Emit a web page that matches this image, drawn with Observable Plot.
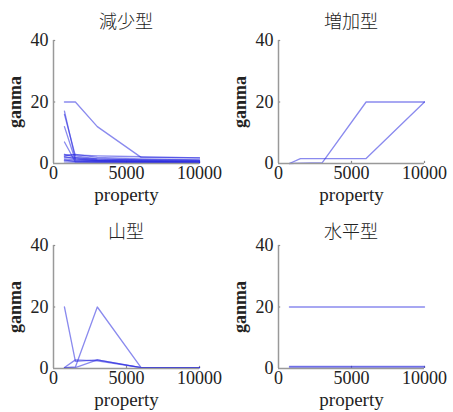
<!DOCTYPE html>
<html>
<head>
<meta charset="utf-8">
<script src="https://cdn.jsdelivr.net/npm/d3@7"></script>
<script src="https://cdn.jsdelivr.net/npm/@observablehq/plot@0.6"></script>
<style>
  html, body { margin: 0; padding: 0; background: #fff; }
  #root { position: relative; width: 453px; height: 412px; overflow: hidden; background: #fff; }
  .panel { position: absolute; width: 226px; height: 206px; }
  .title { position: absolute; left: 53px; width: 146px; text-align: center;
           font-family: "Noto Sans CJK JP", sans-serif; font-weight: 300; font-size: 18px; color: #222; line-height: 20px; }
  .panel svg { position: absolute; left: 0; top: 25px; }
</style>
</head>
<body>
<div id="root"></div>
<script>
// x positions (property) shared by every series
const properties = [750, 1500, 3000, 6000, 10000];

// 減少型 (decreasing)
const decreasing = [
  [20, 20, 12, 2, 1.8],
  [17, 1.5, 1, 0.8, 0.5],
  [16, 2.5, 1.5, 1.2, 1],
  [12, 1, 0.8, 0.5, 0.3],
  [7, 0.5, 0.5, 0.3, 0.3],
  [2.8, 2.8, 2.5, 2.2, 1.8],
  [2.5, 3, 2, 1.5, 1.2],
  [3, 2, 1.2, 1, 0.8],
  [2, 1.8, 1.5, 1.2, 1],
  [1.5, 1.2, 1, 0.8, 0.6],
  [1, 0.8, 0.6, 0.5, 0.4],
  [0.5, 0.4, 0.3, 0.3, 0.2],
  [2.2, 1.5, 0.9, 0.7, 0.6],
  [1.2, 0.6, 0.4, 0.4, 0.3]
];
// 増加型 (increasing)
const increasing = [
  [0, 1.6, 1.6, 1.6, 20],
  [0, 0.1, 0.3, 20, 20]
];
// 山型 (mountain)
const mountain = [
  [20, 2.3, 2.8, 0.3, 0.3],
  [0.3, 0.5, 20, 0.3, 0.3],
  [0.3, 2.8, 2.5, 0.3, 0.3],
  [0.3, 0.3, 2.8, 0.3, 0.3]
];
// 水平型 (horizontal)
const horizontal = [
  [20, 20, 20, 20, 20],
  [0.7, 0.7, 0.7, 0.7, 0.7],
  [0.4, 0.4, 0.4, 0.4, 0.4]
];

const titles = ["減少型", "増加型", "山型", "水平型"];
const groups = [decreasing, increasing, mountain, horizontal];
const xTicks = [0, 5000, 10000];
const yTicks = [0, 20, 40];
const xLabel = "property";
const yLabel = "ganma";

const layout = [
  {left: 0, top: 0, titleTop: 10},
  {left: 225, top: 0, titleTop: 10},
  {left: 0, top: 205, titleTop: 15},
  {left: 225, top: 205, titleTop: 15}
];

const root = document.getElementById("root");
const serif = '"Liberation Serif", "DejaVu Serif", serif';

groups.forEach((series, gi) => {
  const rows = [];
  series.forEach((vals, si) => vals.forEach((v, i) => rows.push({id: si, x: properties[i], y: v})));

  const panel = document.createElement("div");
  panel.className = "panel";
  panel.style.left = layout[gi].left + "px";
  panel.style.top = layout[gi].top + "px";
  const t = document.createElement("div");
  t.className = "title";
  t.style.top = layout[gi].titleTop + "px";
  t.textContent = titles[gi];
  panel.appendChild(t);

  const chart = Plot.plot({
    width: 226,
    height: 180,
    marginLeft: 53,
    marginRight: 27,
    marginTop: 15,
    marginBottom: 42,
    style: {fontFamily: serif, background: "transparent", overflow: "visible"},
    x: {domain: [0, 10000]},
    y: {domain: [0, 40]},
    marks: [
      Plot.axisX(xTicks, {tickSize: 0, tickPadding: 3, fontSize: 18, fontFamily: serif, fill: "#222", label: null, tickFormat: d => String(d)}),
      Plot.axisY(yTicks, {tickSize: 0, tickPadding: 5, fontSize: 18, fontFamily: serif, fill: "#222", label: null, tickFormat: d => String(d)}),
      Plot.ruleY(yTicks.slice(1), {x1: 0, x2: 150, stroke: "#888", strokeWidth: 1.2}),
      Plot.ruleX(xTicks.slice(1), {y1: 0, y2: 0.7, stroke: "#888", strokeWidth: 1.2}),
      Plot.line(rows, {x: "x", y: "y", z: "id", stroke: "#2a2ae0", strokeOpacity: 0.55, strokeWidth: 1.3}),
      Plot.ruleX([0], {stroke: "#999", strokeWidth: 1.5}),
      Plot.ruleY([0], {x1: 0, x2: 10000, stroke: "#999", strokeWidth: 1.5}),
      Plot.text([xLabel], {text: d => d, frameAnchor: "bottom", lineAnchor: "middle", textAnchor: "middle", dy: 31, fontSize: 19, fill: "#222", fontFamily: serif}),
      Plot.text([yLabel], {text: d => d, frameAnchor: "left", lineAnchor: "middle", textAnchor: "middle", dx: -38, rotate: -90, fontSize: 18, fontWeight: "bold", fill: "#222", fontFamily: serif})
    ]
  });
  panel.appendChild(chart);
  root.appendChild(panel);
});
</script>
</body>
</html>
